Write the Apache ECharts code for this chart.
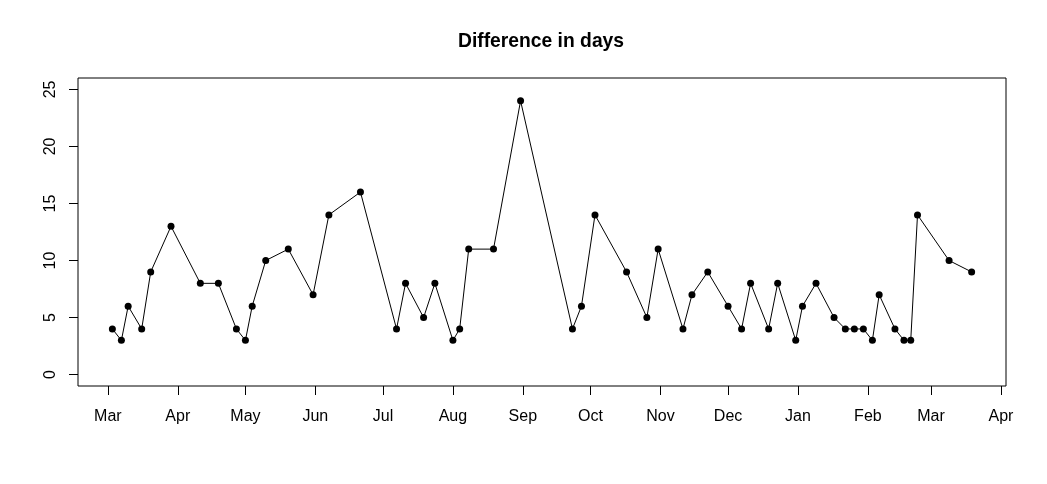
<!DOCTYPE html>
<html>
<head>
<meta charset="utf-8">
<script src="https://cdn.jsdelivr.net/npm/echarts@6/dist/echarts.min.js"></script>
<style>
html,body{margin:0;padding:0;background:#fff;}
#chart{width:1047px;height:484px;}
</style>
</head>
<body>
<div id="chart"></div>
<script>
const titleText = "Difference in days";
const dates = [
  "2018-03-03","2018-03-07","2018-03-10","2018-03-16","2018-03-20","2018-03-29",
  "2018-04-11","2018-04-19","2018-04-27","2018-05-01","2018-05-04","2018-05-10",
  "2018-05-20","2018-05-31","2018-06-07","2018-06-21","2018-07-07","2018-07-11",
  "2018-07-19","2018-07-24","2018-08-01","2018-08-04","2018-08-08","2018-08-19",
  "2018-08-31","2018-09-23","2018-09-27","2018-10-03","2018-10-17","2018-10-26",
  "2018-10-31","2018-11-11","2018-11-15","2018-11-22","2018-12-01","2018-12-07",
  "2018-12-11","2018-12-19","2018-12-23","2018-12-31","2019-01-03","2019-01-09",
  "2019-01-17","2019-01-22","2019-01-26","2019-01-30","2019-02-03","2019-02-06",
  "2019-02-13","2019-02-17","2019-02-20","2019-02-23","2019-03-09","2019-03-19"
];
const values = [
  4,3,6,4,9,13,
  8,8,4,3,6,10,
  11,7,14,16,4,8,
  5,8,3,4,11,11,
  24,4,6,14,9,5,
  11,4,7,9,6,4,
  8,4,8,3,6,8,
  5,4,4,4,3,7,
  4,3,3,14,10,9
];
const monthTicks = [
  "2018-03-01","2018-04-01","2018-05-01","2018-06-01","2018-07-01","2018-08-01",
  "2018-09-01","2018-10-01","2018-11-01","2018-12-01","2019-01-01","2019-02-01",
  "2019-03-01","2019-04-01"
];
const monthNames = ["Jan","Feb","Mar","Apr","May","Jun","Jul","Aug","Sep","Oct","Nov","Dec"];
const yTicks = [0,5,10,15,20,25];

function ts(s){ const p = s.split('-').map(Number); return Date.UTC(p[0], p[1]-1, p[2]); }
const seriesData = dates.map((d,i)=>[ts(d), values[i]]);
const tickVals = monthTicks.map(ts);
const xs = seriesData.map(p=>p[0]);
const xMinD = Math.min(...xs), xMaxD = Math.max(...xs);
const pad = (xMaxD - xMinD) * 0.04;

const chart = echarts.init(document.getElementById('chart'));
const font = "'Liberation Sans', Arial, sans-serif";
chart.setOption({
  animation: false,
  backgroundColor: '#fff',
  title: {
    text: titleText,
    left: 541, top: 32, textAlign: 'center', padding: 0,
    textStyle: {fontFamily: font, fontSize: 19.3, fontWeight: 'bold', color: '#000'}
  },
  grid: {
    left: 78, right: 41, top: 78, bottom: 98,
    show: true, borderColor: '#000', borderWidth: 1, backgroundColor: 'transparent'
  },
  xAxis: {
    type: 'value',
    min: xMinD - pad, max: xMaxD + pad,
    axisLine: {show: false, onZero: false},
    splitLine: {show: false},
    axisTick: {show: true, length: 9, inside: false, customValues: tickVals, lineStyle: {color: '#000', width: 1}},
    axisLabel: {
      show: true, customValues: tickVals, margin: 23,
      fontFamily: font, fontSize: 16, color: '#000',
      formatter: function(v){ return monthNames[new Date(v).getUTCMonth()]; }
    }
  },
  yAxis: {
    type: 'value', min: -1, max: 26,
    axisLine: {show: false},
    splitLine: {show: false},
    axisTick: {show: true, length: 9, customValues: yTicks, lineStyle: {color: '#000', width: 1}},
    axisLabel: {
      show: true, customValues: yTicks, rotate: 90, margin: 19,
      fontFamily: font, fontSize: 16, color: '#000'
    }
  },
  series: [{
    type: 'line',
    data: seriesData,
    symbol: 'circle', symbolSize: 7,
    itemStyle: {color: '#000'},
    lineStyle: {color: '#000', width: 1},
    emphasis: {disabled: true}
  }]
});
</script>
</body>
</html>
